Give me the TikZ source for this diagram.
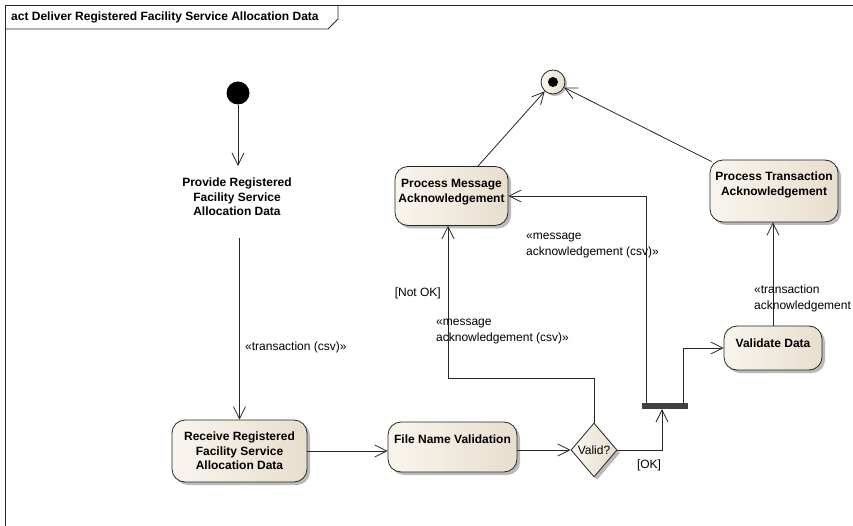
\documentclass[tikz,border=0pt]{standalone}
\usepackage{fontspec}
\setmainfont{Liberation Sans}
\usetikzlibrary{arrows.meta,shapes.geometric,shadows,calc}
\definecolor{creamL}{RGB}{249,245,238}
\definecolor{creamR}{RGB}{232,222,205}
\definecolor{bardark}{RGB}{64,64,64}
\begin{document}
\begin{tikzpicture}[x=1pt,y=-1pt,
  >={Straight Barb[length=12pt,width=12pt]},
  flow/.style={->,line width=0.8pt,draw=black!85},
  action/.style={draw=black!85,line width=0.8pt,rounded corners=13pt,left color=creamL,right color=creamR,
    drop shadow={shadow xshift=3pt,shadow yshift=-3pt,fill=black!45,opacity=0.6},inner sep=0pt},
  btxt/.style={font=\fontsize{12}{14.5}\selectfont\bfseries,align=center,inner sep=0pt},
  ltxt/.style={font=\fontsize{12}{16}\selectfont,align=left,inner sep=0pt},
]
\path[use as bounding box] (0,0) rectangle (853,526);
\clip (0,0) rectangle (853,526);
\fill[white] (0,0) rectangle (853,526);
% frame
\draw[line width=0.8pt,black!85] (5,526) -- (5,5) -- (853,5);
\draw[line width=0.8pt,black!85] (5,29) -- (328,29) -- (338,19) -- (338,5);
\node[btxt,anchor=west] (title) at (11,17) {act Deliver Registered Facility Service Allocation Data};
% nodes
\node[circle,fill=black,minimum size=23pt,inner sep=0pt] (start) at (238,93) {};
\node[minimum width=130pt,minimum height=72pt,inner sep=0pt,
  label={[btxt,yshift=5pt]center:Provide Registered\\Facility Service\\Allocation Data}] (provide) at (237,202) {};
\node[action,minimum width=135pt,minimum height=62pt,
  label={[btxt]center:Receive Registered\\Facility Service\\Allocation Data}] (receive) at (239.5,451) {};
\node[action,minimum width=129pt,minimum height=50pt,
  label={[btxt,yshift=8pt]center:File Name Validation}] (fnv) at (452.5,447) {};
\node[diamond,draw=black!85,line width=0.8pt,left color=creamL,right color=creamR,
  drop shadow={shadow xshift=3pt,shadow yshift=-3pt,fill=black!45,opacity=0.6},
  minimum width=46pt,minimum height=54pt,inner sep=0pt,
  label={[ltxt]center:Valid?}] (valid) at (594,450) {};
\node[fill=bardark,minimum width=46pt,minimum height=6pt,inner sep=0pt] (bar) at (665,406) {};
\node[action,minimum width=98pt,minimum height=44pt,
  label={[btxt,yshift=5pt]center:Validate Data}] (val) at (773,348) {};
\node[action,minimum width=113pt,minimum height=59pt,
  label={[btxt,yshift=4pt]center:Process Message\\Acknowledgement}] (pm) at (451.5,196) {};
\node[action,minimum width=128pt,minimum height=62pt,
  label={[btxt,yshift=6pt]center:Process Transaction\\Acknowledgement}] (pt) at (774,191) {};
\node[circle,draw=black!85,line width=0.8pt,minimum size=24pt,inner sep=0pt,left color=creamL,right color=creamR,
  drop shadow={shadow xshift=2pt,shadow yshift=-2pt,fill=black!45,opacity=0.6}] (final) at (553,82) {};
\node[circle,fill=black,minimum size=10pt,inner sep=0pt] (finaldot) at (final) {};
% coordinates
\coordinate (okc) at (662,0);
\coordinate (bl) at (646,0);
\coordinate (br) at (683,0);
\coordinate (nk) at (448,378);
% connectors
\draw[flow] (start.south) -- (start.south |- provide.north);
\draw[flow] (receive.north |- provide.south) -- (receive.north);
\node[ltxt,anchor=west] (lt1) at (245,347) {«transaction (csv)»};
\draw[flow] (receive.east) -- (receive.east -| fnv.west);
\draw[flow] (fnv.east |- valid.west) -- (valid.west);
\draw[flow] (valid.east) -| (okc |- bar.south);
\node[ltxt] (ok) at (649,465) {[OK]};
\draw[flow] (bl |- bar.north) |- (pm.east);
\node[ltxt,anchor=west] (lm1) at (526,246) {«message\\acknowledgement (csv)»};
\draw[flow] (br |- bar.north) |- (val.west);
\draw[flow] (valid.north) |- (nk) -- (nk |- pm.south);
\node[ltxt,anchor=east] (notok) at (441,293) {[Not OK]};
\node[ltxt,anchor=west] (lm2) at (436,332) {«message\\acknowledgement (csv)»};
\draw[flow] (val.north) -- (val.north |- pt.south);
\node[ltxt,anchor=west] (lt2) at (754,298) {«transaction\\acknowledgement (csv)»};
\draw[flow] ([xshift=26.5pt]pm.north) -- (final);
\draw[flow] ([xshift=2pt,yshift=-2pt]pt.north west) -- (final);
\end{tikzpicture}
\end{document}
